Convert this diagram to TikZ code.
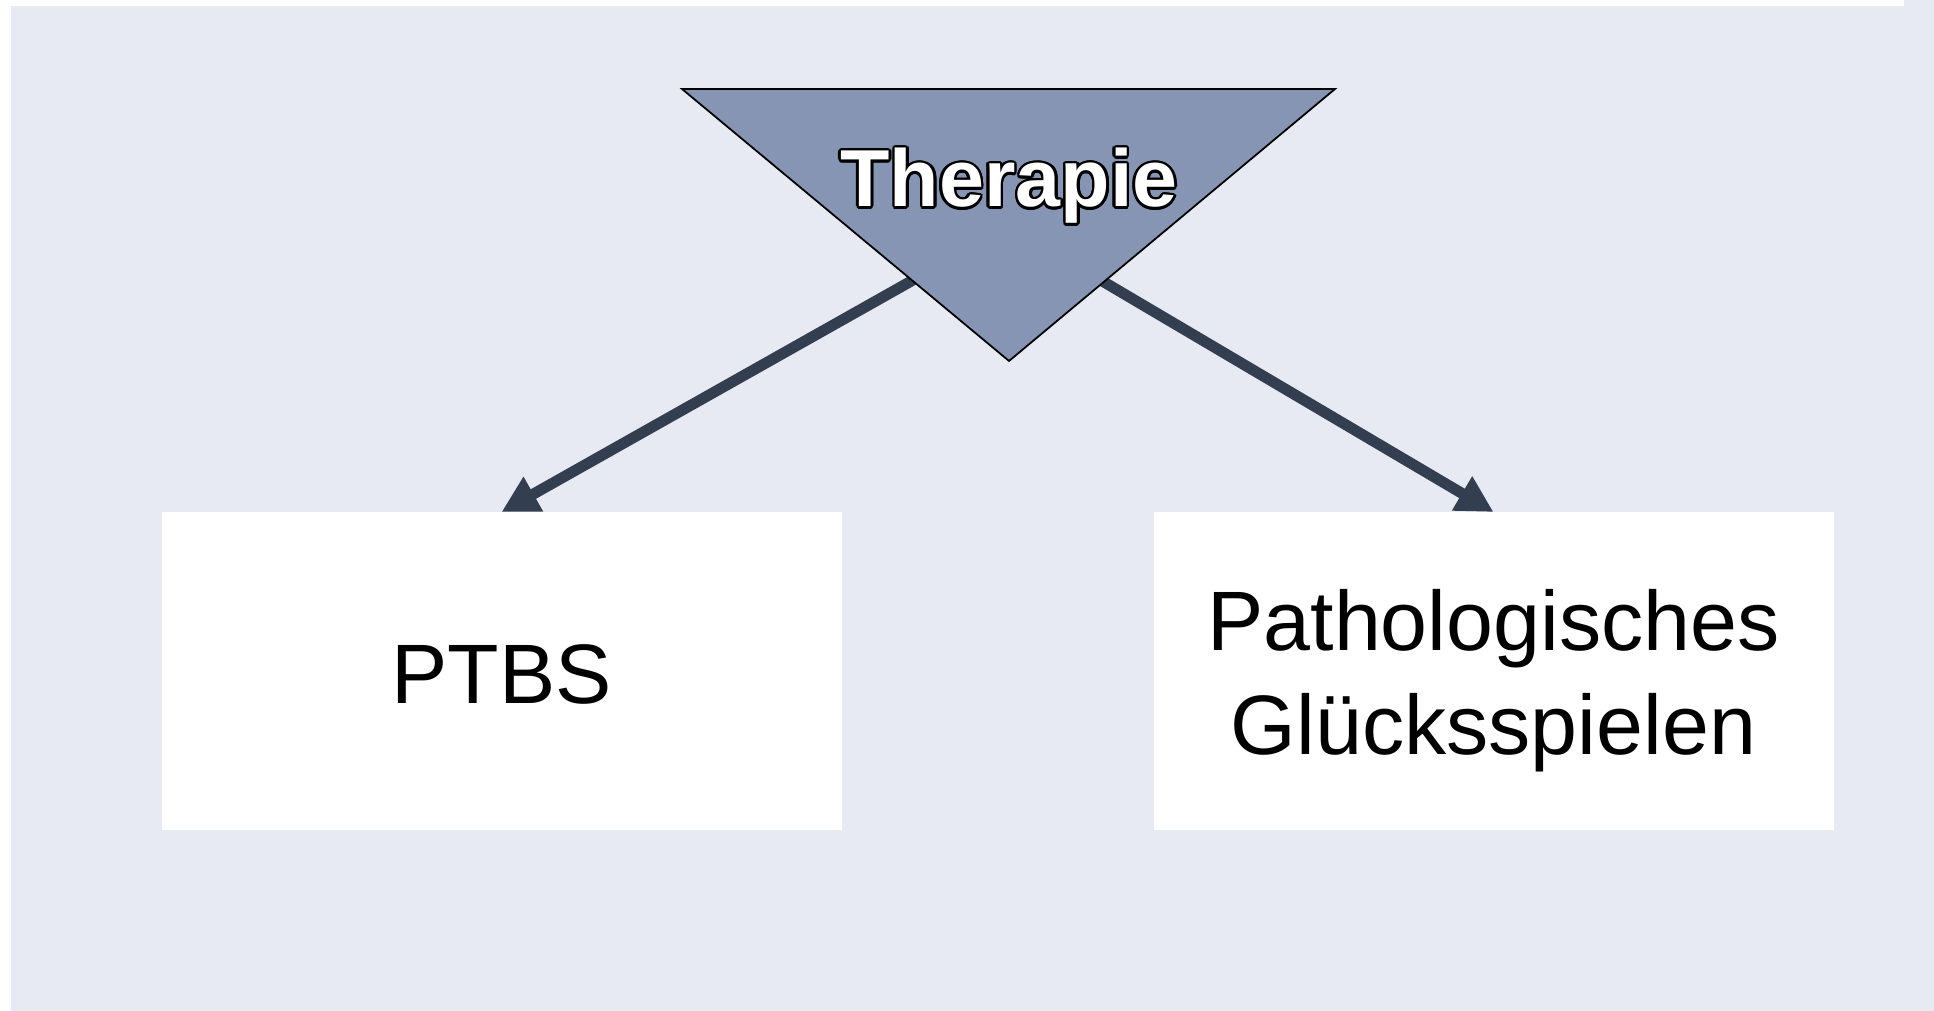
\documentclass[tikz,border=0pt]{standalone}
\usepackage{fontspec}
\setmainfont{Liberation Sans}
\usetikzlibrary{arrows.meta,calc}

\definecolor{bgblue}{HTML}{E7EAF2}
\definecolor{trifill}{HTML}{8595B3}
\definecolor{arrowcol}{HTML}{333F50}

\tikzset{
    box/.style={fill=white, minimum width=6.8cm, minimum height=3.18cm,
        inner sep=0pt, outer sep=0pt},
    boxtext/.style={align=center, inner sep=0pt,
        font=\fontsize{24}{29.5}\selectfont},
    title/.style={anchor=base, inner sep=0pt,
        font=\fontsize{23}{28}\selectfont\bfseries},
    link/.style={->, line width=3.1pt, draw=arrowcol}
}

\begin{document}
\begin{tikzpicture}[>={Triangle[length=10.4pt,width=10.6pt]}, thick]
    \useasboundingbox (0,0) rectangle (19.34,10.11);

    % Background
    \fill[bgblue] (0.11,0) rectangle (19.34,10.05);
    \fill[bgblue] (19.04,10.05) rectangle (19.34,10.11);

    % Boxes
    \node[box] (ptbs) at (5.015,3.40) {};
    \node[box] (pg) at (14.935,3.40) {};
    \node[boxtext] (ptbstext) at ([yshift=-0.03cm]ptbs.center) {PTBS};
    \node[boxtext] (pgtext) at ([yshift=-0.1cm]pg.center) {Pathologisches\\Glücksspielen};

    % Arrows
    \coordinate (hub) at (10.09,7.85);
    \draw[link] (hub) -- (ptbs.north);
    \draw[link] (hub) -- (pg.north);

    % Triangle
    \draw[fill=trifill, line width=0.5pt] (6.82,9.22) -- (13.35,9.22) -- (10.09,6.50) -- cycle;

    % Label with outline
    \foreach \a in {0,22.5,...,337.5}
        \node[title, text=black] at ($(10.09,8.04)+(\a:0.75pt)$) {Therapie};
    \node[title, text=white] (thera) at (10.09,8.04) {Therapie};
\end{tikzpicture}
\end{document}
